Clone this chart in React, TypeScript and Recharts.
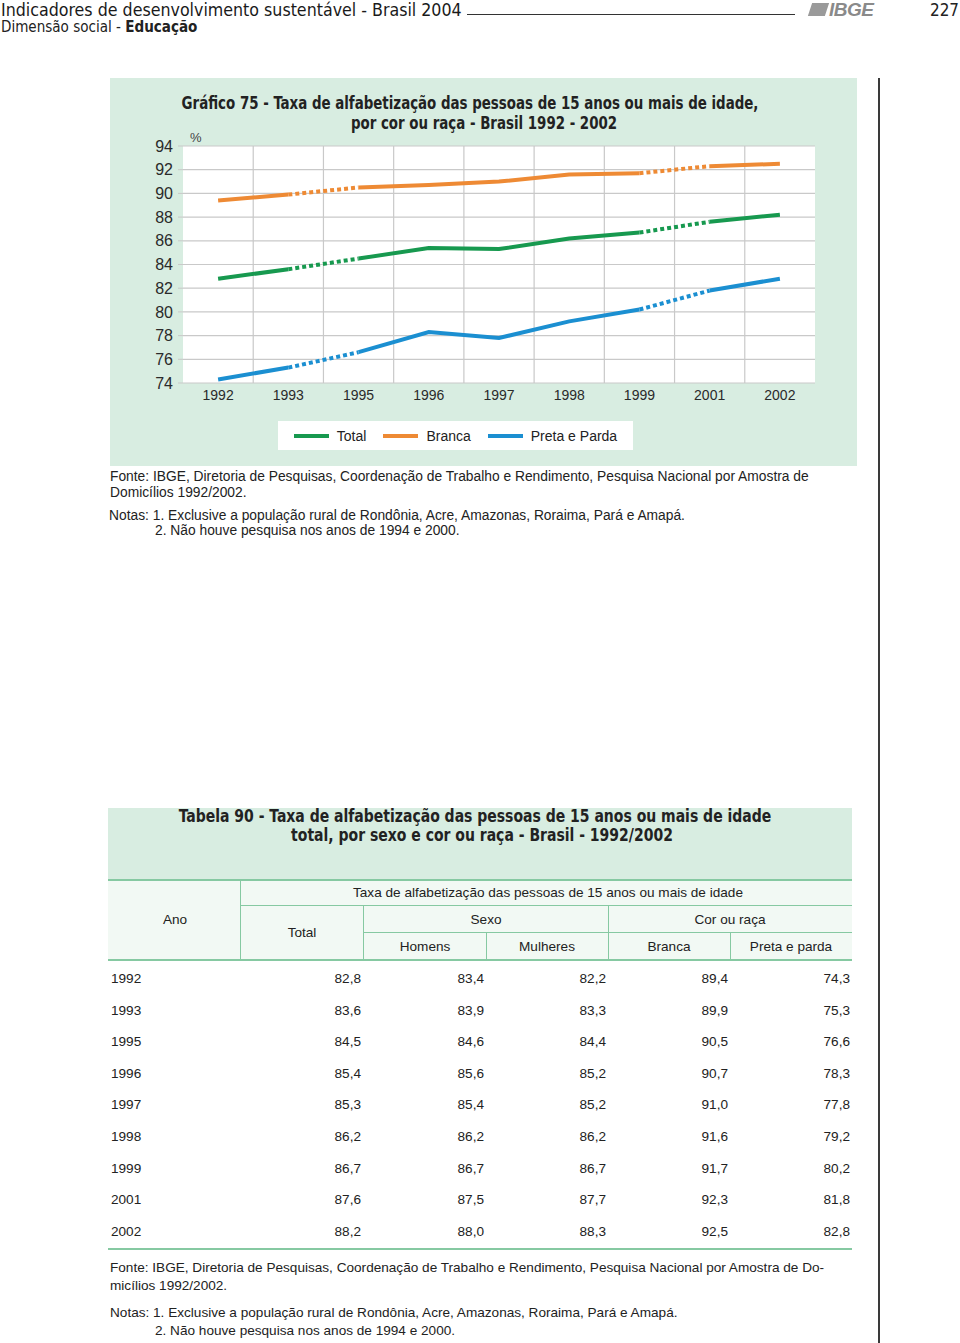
import type { CSSProperties, ReactNode } from "react";
import { CartesianGrid, Line, LineChart, XAxis, YAxis } from "recharts";

// anos da PNAD (sem pesquisa em 1994 e 2000)
const years = ["1992", "1993", "1995", "1996", "1997", "1998", "1999", "2001", "2002"];
const total = [82.8, 83.6, 84.5, 85.4, 85.3, 86.2, 86.7, 87.6, 88.2];
const homens = [83.4, 83.9, 84.6, 85.6, 85.4, 86.2, 86.7, 87.5, 88.0];
const mulheres = [82.2, 83.3, 84.4, 85.2, 85.2, 86.2, 86.7, 87.7, 88.3];
const branca = [89.4, 89.9, 90.5, 90.7, 91.0, 91.6, 91.7, 92.3, 92.5];
const pretaParda = [74.3, 75.3, 76.6, 78.3, 77.8, 79.2, 80.2, 81.8, 82.8];
const yTicks = [74, 76, 78, 80, 82, 84, 86, 88, 90, 92, 94];

const series = [
  { key: "total", name: "Total", values: total, color: "#17994f" },
  { key: "branca", name: "Branca", values: branca, color: "#ee8a34" },
  { key: "preta", name: "Preta e Parda", values: pretaParda, color: "#1b8fd1" },
];

const GREEN_BG = "#d8ede1";
const NARROW = '"Liberation Sans Narrow", "DejaVu Sans Condensed", "Liberation Sans", sans-serif';
const SANS = '"Liberation Sans", Arial, sans-serif';

// chart geometry (inside the green panel)
const CHART_W = 747;
const CHART_H = 388;
const MARGIN = { top: 68, right: 42, bottom: 53, left: 33 };
const Y_AXIS_W = 40;
const PLOT_W = CHART_W - MARGIN.left - MARGIN.right - Y_AXIS_W;
const BAND = PLOT_W / years.length;

// a year step greater than 1 means there was no survey in between -> dotted segment
const isGap = (i: number) =>
  i >= 0 && i < years.length - 1 && Number(years[i + 1]) - Number(years[i]) > 1;

const segId: number[] = [];
years.forEach((_, i) => {
  segId.push(i === 0 ? 0 : segId[i - 1] + (isGap(i - 1) ? 1 : 0));
});

const chartData = years.map((year, i) => {
  const row: Record<string, string | number | null> = { year };
  series.forEach((s) => {
    const v = s.values[i];
    row[`${s.key}_even`] = segId[i] % 2 === 0 ? v : null;
    row[`${s.key}_odd`] = segId[i] % 2 === 1 ? v : null;
    row[`${s.key}_gap`] = isGap(i) || isGap(i - 1) ? v : null;
  });
  return row;
});

const fmt = (v: number) => v.toFixed(1).replace(".", ",");

type TxtProps = {
  x: number;
  cy: number;
  size?: number;
  lh?: number;
  align?: "left" | "center" | "right";
  bold?: boolean;
  family?: string;
  sx?: number;
  style?: CSSProperties;
  children: ReactNode;
};

const Txt = ({ x, cy, size = 13.6, lh, align = "left", bold, family = SANS, sx = 1, style, children }: TxtProps) => {
  const lineH = lh ?? Math.round(size * 1.15);
  const shift = align === "center" ? "translateX(-50%)" : align === "right" ? "translateX(-100%)" : "";
  const origin = align === "center" ? "50% 50%" : align === "right" ? "100% 50%" : "0 50%";
  return (
    <div
      style={{
        position: "absolute",
        left: x,
        top: cy - lineH / 2,
        lineHeight: `${lineH}px`,
        fontSize: size,
        fontFamily: family,
        fontWeight: bold ? 700 : 400,
        color: "#222",
        whiteSpace: "nowrap",
        transform: `${shift} scaleX(${sx})`.trim(),
        transformOrigin: origin,
        ...style,
      }}
    >
      {children}
    </div>
  );
};

const Rule = ({ x, y, w, h, color = "#86c9a2" }: { x: number; y: number; w: number; h: number; color?: string }) => (
  <div style={{ position: "absolute", left: x, top: y, width: w, height: h, background: color }} />
);

const Chart = () => (
  <LineChart width={CHART_W} height={CHART_H} data={chartData} margin={MARGIN}>
    <CartesianGrid
      fill="#ffffff"
      stroke="#c9c9c9"
      strokeWidth={1.2}
      verticalCoordinatesGenerator={({ offset }: any) => {
        const left = offset?.left ?? MARGIN.left + Y_AXIS_W;
        const width = offset?.width ?? PLOT_W;
        return years.slice(1).map((_, i) => left + (width * (i + 1)) / years.length);
      }}
    />
    <XAxis
      dataKey="year"
      interval={0}
      padding={{ left: BAND / 2, right: BAND / 2 }}
      axisLine={false}
      tickLine={false}
      tickSize={0}
      tickMargin={7}
      height={30}
      tick={{ fill: "#2a2a2a", fontSize: 14, fontFamily: SANS }}
    />
    <YAxis
      domain={[74, 94]}
      ticks={yTicks}
      interval={0}
      width={Y_AXIS_W}
      axisLine={false}
      tickLine={{ stroke: "#c9c9c9" }}
      tickSize={5}
      tickMargin={5}
      tick={{ fill: "#2a2a2a", fontSize: 16, fontFamily: SANS }}
    />
    {series.flatMap((s) => [
      <Line
        key={`${s.key}_even`}
        dataKey={`${s.key}_even`}
        stroke={s.color}
        strokeWidth={4}
        dot={false}
        activeDot={false}
        isAnimationActive={false}
      />,
      <Line
        key={`${s.key}_odd`}
        dataKey={`${s.key}_odd`}
        stroke={s.color}
        strokeWidth={4}
        dot={false}
        activeDot={false}
        isAnimationActive={false}
      />,
      <Line
        key={`${s.key}_gap`}
        dataKey={`${s.key}_gap`}
        stroke={s.color}
        strokeWidth={4}
        strokeDasharray="4 3"
        dot={false}
        activeDot={false}
        isAnimationActive={false}
      />,
    ])}
  </LineChart>
);

const Legend = () => (
  <div
    style={{
      position: "absolute",
      left: 278,
      top: 421,
      width: 355,
      height: 29,
      background: "#fff",
      display: "flex",
      alignItems: "center",
      justifyContent: "center",
      gap: 17,
      fontFamily: SANS,
      fontSize: 14,
      color: "#222",
    }}
  >
    {series.map((s) => (
      <div key={s.key} style={{ display: "flex", alignItems: "center", gap: 8 }}>
        <div style={{ width: 35, height: 4, background: s.color }} />
        <span>{s.name}</span>
      </div>
    ))}
  </div>
);

const tableRows = years.map((year, i) => [year, total[i], homens[i], mulheres[i], branca[i], pretaParda[i]] as const);
const colRights = [361, 484, 606, 728, 850];
const rowCenters0 = 979;
const rowStep = 31.6;

const App = () => (
  <div style={{ position: "absolute", left: 0, top: 0, width: 960, height: 1343, background: "#fff", overflow: "hidden" }}>
    {/* cabeçalho */}
    <Txt x={1} cy={9} size={18} lh={17} family={NARROW} sx={0.98} style={{ color: "#1a1a1a" }}>
      Indicadores de desenvolvimento sustentável - Brasil 2004
    </Txt>
    <Rule x={467} y={14} w={328} h={1} color="#333" />
    <div style={{ position: "absolute", left: 810, top: 3, width: 17, height: 13, background: "#9a9a9a", transform: "skewX(-18deg)" }} />
    <Txt x={829} cy={10} size={19} lh={18} bold family={SANS} style={{ fontStyle: "italic", color: "#8a8a8a", letterSpacing: -0.5 }}>
      IBGE
    </Txt>
    <Txt x={959} cy={9} size={18} lh={17} align="right" family={NARROW} sx={0.94}>
      227
    </Txt>
    <Txt x={1} cy={27} size={16} lh={16} family={NARROW} sx={0.94}>
      Dimensão social - <b>Educação</b>
    </Txt>

    <Rule x={878} y={78} w={2} h={1265} color="#3a3a3a" />

    {/* gráfico */}
    <div style={{ position: "absolute", left: 110, top: 78, width: 747, height: 388, background: GREEN_BG }}>
      <div style={{ position: "absolute", left: 0, top: 0 }}>
        <Chart />
      </div>
    </div>
    <Txt x={470} cy={103} size={17} bold align="center" family={NARROW} sx={0.875}>
      Gráfico 75 - Taxa de alfabetização das pessoas de 15 anos ou mais de idade,
    </Txt>
    <Txt x={484} cy={123} size={17} bold align="center" family={NARROW} sx={0.875}>
      por cor ou raça -  Brasil 1992 - 2002
    </Txt>
    <Txt x={190} cy={137} size={13} style={{ color: "#444" }}>
      %
    </Txt>
    <Legend />

    <Txt x={110} cy={477} size={13.8}>
      Fonte: IBGE, Diretoria de Pesquisas, Coordenação de Trabalho e Rendimento, Pesquisa Nacional por Amostra de
    </Txt>
    <Txt x={110} cy={493} size={13.8}>
      Domicílios 1992/2002.
    </Txt>
    <Txt x={109} cy={516} size={13.8}>
      Notas: 1. Exclusive a população rural de Rondônia, Acre, Amazonas, Roraima, Pará e Amapá.
    </Txt>
    <Txt x={155} cy={531} size={13.8}>
      2. Não houve pesquisa nos anos de 1994 e 2000.
    </Txt>

    {/* tabela */}
    <div style={{ position: "absolute", left: 108, top: 808, width: 744, height: 72, background: GREEN_BG }} />
    <div style={{ position: "absolute", left: 108, top: 880, width: 744, height: 80, background: "#f2f9f4" }} />
    <Txt x={475} cy={816} size={17} bold align="center" family={NARROW} sx={0.915}>
      Tabela 90 - Taxa de alfabetização das pessoas de 15 anos ou mais de idade
    </Txt>
    <Txt x={482} cy={835} size={17} bold align="center" family={NARROW} sx={0.915}>
      total, por sexo e cor ou raça - Brasil - 1992/2002
    </Txt>
    <Rule x={108} y={879} w={744} h={2} />
    <Rule x={241} y={905} w={611} h={1} />
    <Rule x={363} y={932} w={489} h={1} />
    <Rule x={108} y={959} w={744} h={2} />
    <Rule x={240} y={880} w={1} h={80} />
    <Rule x={363} y={906} w={1} h={54} />
    <Rule x={486} y={933} w={1} h={27} />
    <Rule x={608} y={906} w={1} h={54} />
    <Rule x={730} y={933} w={1} h={27} />
    <Txt x={175} cy={920} align="center">Ano</Txt>
    <Txt x={548} cy={893} align="center">Taxa de alfabetização das pessoas de 15 anos ou mais de idade</Txt>
    <Txt x={302} cy={933} align="center">Total</Txt>
    <Txt x={486} cy={920} align="center">Sexo</Txt>
    <Txt x={730} cy={920} align="center">Cor ou raça</Txt>
    <Txt x={425} cy={947} align="center">Homens</Txt>
    <Txt x={547} cy={947} align="center">Mulheres</Txt>
    <Txt x={669} cy={947} align="center">Branca</Txt>
    <Txt x={791} cy={947} align="center">Preta e parda</Txt>
    {tableRows.map(([year, ...vals], r) => (
      <div key={year}>
        <Txt x={111} cy={rowCenters0 + r * rowStep}>{year}</Txt>
        {vals.map((v, c) => (
          <Txt key={c} x={colRights[c]} cy={rowCenters0 + r * rowStep} align="right">
            {fmt(v)}
          </Txt>
        ))}
      </div>
    ))}
    <Rule x={108} y={1248} w={744} h={2} />

    <Txt x={110} cy={1268}>
      Fonte: IBGE, Diretoria de Pesquisas, Coordenação de Trabalho e Rendimento, Pesquisa Nacional por Amostra de Do-
    </Txt>
    <Txt x={110} cy={1286}>
      micílios 1992/2002.
    </Txt>
    <Txt x={110} cy={1313}>
      Notas: 1. Exclusive a população rural de Rondônia, Acre, Amazonas, Roraima, Pará e Amapá.
    </Txt>
    <Txt x={155} cy={1331}>
      2. Não houve pesquisa nos anos de 1994 e 2000.
    </Txt>
  </div>
);

export default App;
